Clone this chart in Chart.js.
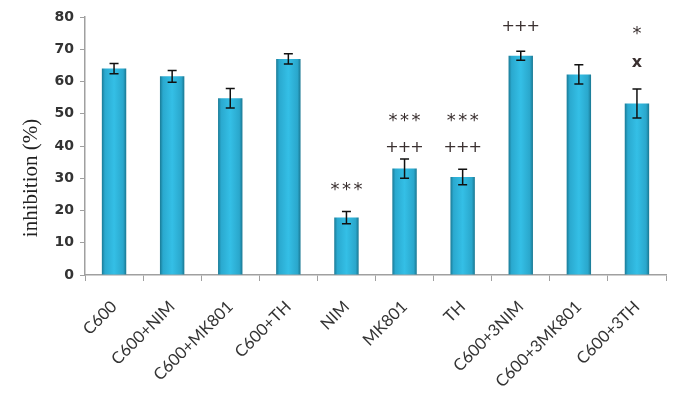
<!DOCTYPE html>
<html>
<head>
<meta charset="utf-8">
<script src="https://cdn.jsdelivr.net/npm/chart.js@4.4.1/dist/chart.umd.min.js"></script>
<style>
  html, body { margin: 0; padding: 0; background: #fff; }
  #wrap { width: 685px; height: 408px; }
</style>
</head>
<body>
<div id="wrap"><canvas id="c" width="685" height="408"></canvas></div>
<script>
// bar chart of inhibition (%) with SE bars and significance marks

const CATEGORIES = ['C600', 'C600+NIM', 'C600+MK801', 'C600+TH', 'NIM', 'MK801', 'TH',
                    'C600+3NIM', 'C600+3MK801', 'C600+3TH'];
const INHIBITION = [64.0, 61.6, 54.8, 67.0, 17.8, 33.0, 30.4, 68.0, 62.2, 53.2];
const ERRORS     = [1.6, 1.8, 3.0, 1.6, 1.9, 3.0, 2.4, 1.4, 3.0, 4.5];
// significance marks, with the level (in % units) at which each is written
const MARKS = [
  { i: 4, text: '***', at: 27.5 },
  { i: 5, text: '+++', at: 39.5 }, { i: 5, text: '***', at: 48.8 },
  { i: 6, text: '+++', at: 39.5 }, { i: 6, text: '***', at: 48.8 },
  { i: 7, text: '+++', at: 77.0 },
  { i: 9, text: 'x', at: 65.9 }, { i: 9, text: '*', at: 75.8 }
];
const Y_TICKS = [0, 10, 20, 30, 40, 50, 60, 70, 80];

function barFill(ctx) {
  const chart = ctx.chart;
  const x = chart.scales.x;
  if (!x || !chart.chartArea || ctx.dataIndex === undefined) return '#2ab4da';
  const cx = x.getPixelForValue(ctx.dataIndex);
  const half = 12;
  const g = chart.ctx.createLinearGradient(cx - half, 0, cx + half, 0);
  g.addColorStop(0, '#1b7d99');
  g.addColorStop(0.12, '#2aa9cf');
  g.addColorStop(0.5, '#34bfe6');
  g.addColorStop(0.88, '#2aa7cc');
  g.addColorStop(1, '#1b7a95');
  return g;
}

const extras = {
  id: 'extras',
  afterDatasetsDraw(chart) {
    const { ctx, scales: { x, y } } = chart;
    ctx.save();
    // error bars
    ctx.strokeStyle = '#111';
    ctx.lineWidth = 1.5;
    INHIBITION.forEach((v, i) => {
      const cx = x.getPixelForValue(i);
      const top = y.getPixelForValue(v + ERRORS[i]);
      const bot = y.getPixelForValue(v - ERRORS[i]);
      ctx.beginPath();
      ctx.moveTo(cx, top); ctx.lineTo(cx, bot);
      ctx.moveTo(cx - 4.5, top); ctx.lineTo(cx + 4.5, top);
      ctx.moveTo(cx - 4.5, bot); ctx.lineTo(cx + 4.5, bot);
      ctx.stroke();
    });
    // significance marks, one glyph at a time so the spacing matches
    ctx.fillStyle = '#3a3030';
    ctx.textAlign = 'center';
    ctx.textBaseline = 'middle';
    MARKS.forEach(m => {
      const cx = x.getPixelForValue(m.i);
      const py = y.getPixelForValue(m.at);
      const chars = m.text.split('');
      let step = 12.5, dy = 0;
      if (chars[0] === '*') { ctx.font = '18px "DejaVu Sans"'; step = 11.5; dy = 4; }
      else if (chars[0] === 'x') { ctx.font = 'bold 16px "DejaVu Sans"'; }
      else { ctx.font = '16px "DejaVu Sans"'; }
      const start = cx - (chars.length - 1) * step / 2;
      chars.forEach((c, k) => ctx.fillText(c, start + k * step, py + dy));
    });
    // y axis title, drawn by hand to sit where the original does
    ctx.fillStyle = '#222';
    ctx.font = '21px "Liberation Serif"';
    ctx.translate(31, 178);
    ctx.rotate(-Math.PI / 2);
    ctx.fillText('inhibition (%)', 0, 0);
    ctx.restore();
  }
};

new Chart(document.getElementById('c'), {
  type: 'bar',
  data: {
    labels: CATEGORIES,
    datasets: [{
      data: INHIBITION,
      backgroundColor: barFill,
      borderWidth: 0,
      barPercentage: 0.42,
      categoryPercentage: 1.0
    }]
  },
  options: {
    responsive: false,
    animation: false,
    layout: { padding: { top: 17, right: 19, left: 0, bottom: 0 } },
    plugins: { legend: { display: false }, tooltip: { enabled: false } },
    scales: {
      x: {
        grid: { offset: true, drawOnChartArea: false, color: '#a0a0a0', tickLength: 6 },
        border: { color: '#a0a0a0', width: 1.5 },
        ticks: {
          minRotation: 45, maxRotation: 45, color: '#333',
          font: { family: 'Lato', size: 16.5 }, padding: 16
        },
        afterFit(s) { s.height = 133; }
      },
      y: {
        min: 0, max: 80,
        afterBuildTicks(s) { s.ticks = Y_TICKS.map(v => ({ value: v })); },
        grid: { drawOnChartArea: false, color: '#a0a0a0', tickLength: 5 },
        border: { color: '#a0a0a0', width: 1.5 },
        ticks: { color: '#333', font: { family: 'DejaVu Sans', size: 14, weight: 'bold' }, padding: 6 },
        afterFit(s) { s.width = 85; }
      }
    }
  },
  plugins: [extras]
});
</script>
</body>
</html>
